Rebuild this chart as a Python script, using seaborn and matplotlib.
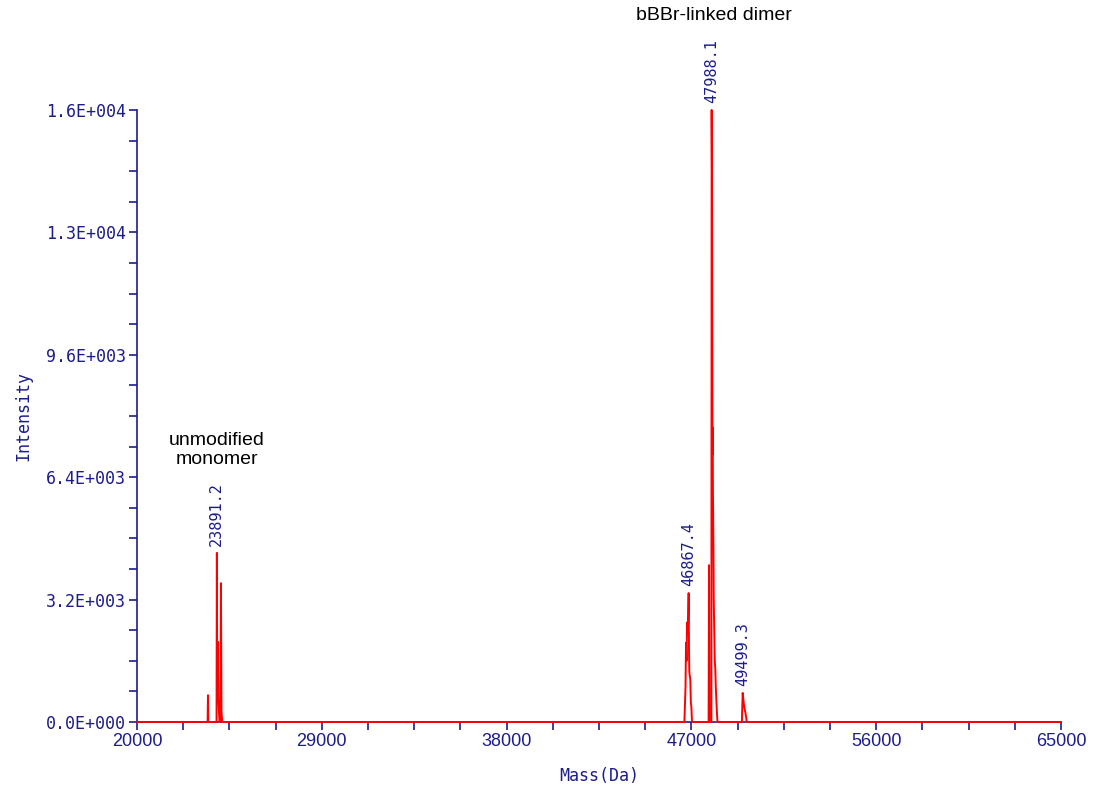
import numpy as np
import pandas as pd
import matplotlib
matplotlib.use("Agg")
import matplotlib.pyplot as plt
import seaborn as sns
from matplotlib.ticker import FixedLocator, FuncFormatter

# Deconvoluted mass spectrum (mass in Da, intensity)
mass = [20000, 23400, 23440, 23458, 23476, 23860, 23875, 23891.2, 23910, 23930, 23945, 23965, 23990,
        24020, 24060, 24090, 24115, 24130, 24160, 24200,
        46600, 46660, 46690, 46715, 46740, 46765, 46790, 46830, 46867.4, 46885, 46900, 46925, 46950,
        46975, 47000, 47030,
        47820, 47840, 47860, 47880, 47960, 47975, 47988.1, 48005, 48030, 48040, 48050, 48060, 48075,
        48090, 48115, 48140, 48165, 48190, 48215, 48240, 48270,
        49420, 49460, 49499.3, 49530, 49560, 49600, 49630, 49660, 49700,
        65000]
intensity = [0, 0, 0, 700, 0, 0, 0, 4420, 600, 2100, 1500, 600, 300,
             0, 0, 3630, 300, 150, 0, 0,
             0, 0, 500, 900, 2070, 1600, 2600, 2300, 3370, 1900, 1300, 1200, 1100,
             500, 400, 0,
             0, 0, 4100, 0, 0, 0, 16000, 14400, 7000, 7700, 6000, 5500, 4500,
             3200, 2400, 1600, 1400, 900, 600, 300, 0,
             0, 0, 760, 600, 450, 320, 250, 150, 0,
             0]

x_ticks = [20000, 29000, 38000, 47000, 56000, 65000]
y_ticks = [0, 3200, 6400, 9600, 12800, 16000]

peak_labels = ["23891.2", "46867.4", "47988.1", "49499.3"]
peak_masses = [23891.2, 46867.4, 47988.1, 49499.3]
peak_heights = [4420, 3370, 16000, 760]

df = pd.DataFrame({"Mass": mass, "Intensity": intensity})

sns.set_theme(style="white")
navy = "#1c1c8c"
mono = "DejaVu Sans Mono"

fig = plt.figure(figsize=(10.94, 7.90), dpi=100)
ax = fig.add_axes([0.1252, 0.0861, 0.8446, 0.7747])

sns.lineplot(data=df, x="Mass", y="Intensity", ax=ax, color="#ff0000", linewidth=1.4,
             estimator=None, sort=False)
for ln in ax.lines:
    ln.set_clip_on(False)
    ln.set_zorder(3)

ax.set_xlim(20000, 65000)
ax.set_ylim(0, 16000)

for s in ["top", "right"]:
    ax.spines[s].set_visible(False)
for s in ["left", "bottom"]:
    ax.spines[s].set_color(navy)
    ax.spines[s].set_linewidth(1.2)
    ax.spines[s].set_zorder(2)

ax.xaxis.set_major_locator(FixedLocator(x_ticks))
x_minor = [x_ticks[0] + i * (x_ticks[1] - x_ticks[0]) / 4 for i in range(21)]
ax.xaxis.set_minor_locator(FixedLocator(x_minor))
ax.yaxis.set_major_locator(FixedLocator(y_ticks))
y_minor = [i * (y_ticks[1] - y_ticks[0]) / 4 for i in range(21)]
ax.yaxis.set_minor_locator(FixedLocator(y_minor))

def sci(v, pos):
    if v == 0:
        return "0.0E+000"
    e = int(np.floor(np.log10(abs(v))))
    m = v / 10 ** e
    return f"{m:.1f}E+{e:03d}"

ax.yaxis.set_major_formatter(FuncFormatter(sci))
ax.xaxis.set_major_formatter(FuncFormatter(lambda v, p: f"{int(v)}"))

ax.tick_params(axis="both", which="both", direction="out", color=navy, width=1.2,
               bottom=True, left=True, length=6)
ax.tick_params(axis="y", labelsize=12, labelcolor=navy, pad=2)
ax.tick_params(axis="x", labelsize=13, labelcolor=navy, pad=2)
for lab in ax.get_yticklabels():
    lab.set_fontfamily(mono)
for lab in ax.get_xticklabels():
    lab.set_fontfamily("Liberation Sans")

ax.set_xlabel("Mass(Da)", color=navy, fontsize=12, family=mono, labelpad=12)
ax.set_ylabel("Intensity", color=navy, fontsize=12, family=mono, labelpad=10)
ax.grid(False)

for lbl, m, h in zip(peak_labels, peak_masses, peak_heights):
    ax.annotate(lbl, xy=(m, h), xytext=(0, 5), textcoords="offset points",
                rotation=90, ha="center", va="bottom", color=navy,
                fontsize=11, family=mono)

ax.text(23900, 6650, "unmodified\nmonomer", ha="center", va="bottom", fontsize=14,
        family="Liberation Sans", color="black", linespacing=1.1)
ax.text(48100, 18250, "bBBr-linked dimer", ha="center", va="bottom", fontsize=14,
        family="Liberation Sans", color="black", clip_on=False)

fig.savefig("out.png", dpi=100)
